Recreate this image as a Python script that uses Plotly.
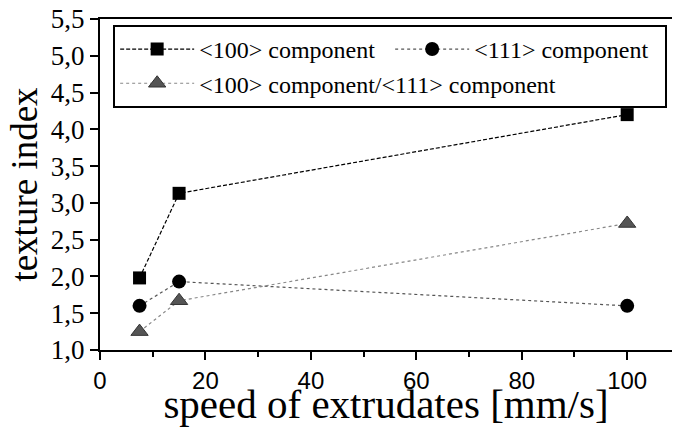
import plotly.graph_objects as go

speed = [7.5, 15, 100]
c100 = [1.98, 3.13, 4.20]
c111 = [1.60, 1.93, 1.60]
ratio = [1.25, 1.67, 2.72]

names = ["<100> component", "<111> component", "<100> component/<111> component"]
ytickvals = [1.0, 1.5, 2.0, 2.5, 3.0, 3.5, 4.0, 4.5, 5.0, 5.5]
yticktext = ["1,0", "1,5", "2,0", "2,5", "3,0", "3,5", "4,0", "4,5", "5,0", "5,5"]
xtickvals = [0, 20, 40, 60, 80, 100]

SERIF = "Liberation Serif"
SANS = "Liberation Sans"

fig = go.Figure()
fig.add_trace(go.Scatter(x=speed, y=c100, name=names[0], mode="lines+markers",
                         line=dict(color="black", width=1.2, dash="4px,2px"),
                         marker=dict(symbol="square", size=13, color="black")))
fig.add_trace(go.Scatter(x=speed, y=c111, name=names[1], mode="lines+markers",
                         line=dict(color="#555", width=1.2, dash="dot"),
                         marker=dict(symbol="circle", size=14, color="black")))
fig.add_trace(go.Scatter(x=speed, y=ratio, name=names[2], mode="lines+markers",
                         line=dict(color="#888", width=1.2, dash="dot"),
                         marker=dict(symbol="triangle-up", size=15, color="#555",
                                     line=dict(color="#333", width=1))))

fig.update_layout(
    width=673, height=427,
    margin=dict(l=100, r=1, t=19, b=77),
    paper_bgcolor="white", plot_bgcolor="white",
    font=dict(family=SERIF, color="black"),
    legend=dict(orientation="h", x=0.023, y=0.982, xanchor="left", yanchor="top",
                bordercolor="black", borderwidth=2, bgcolor="white",
                font=dict(family=SERIF, size=24, color="black"),
                itemwidth=74, entrywidth=186, entrywidthmode="pixels",
                tracegroupgap=0),
    xaxis=dict(range=[0, 108.5], tickvals=xtickvals, ticks="outside", ticklen=8,
               tickwidth=2, tickcolor="black", showline=True, linecolor="black",
               linewidth=2, mirror=True, showgrid=False, zeroline=False,
               tickfont=dict(family=SANS, size=24, color="black"),
               minor=dict(dtick=10, ticks="outside", ticklen=5, tickwidth=1.5, tickcolor="black"),
               title=dict(text="speed of extrudates [mm/s]", standoff=0,
                          font=dict(family=SERIF, size=41, color="black"))),
    yaxis=dict(range=[1.0, 5.5], tickvals=ytickvals, ticktext=yticktext, ticks="outside",
               ticklen=8, tickwidth=2, tickcolor="black", showline=True, linecolor="black",
               linewidth=2, showgrid=False, zeroline=False,
               tickfont=dict(family=SERIF, size=27, color="black"),
               title=dict(text="texture index", standoff=2,
                          font=dict(family=SERIF, size=37, color="black"))),
)

fig.write_html("out.html")
